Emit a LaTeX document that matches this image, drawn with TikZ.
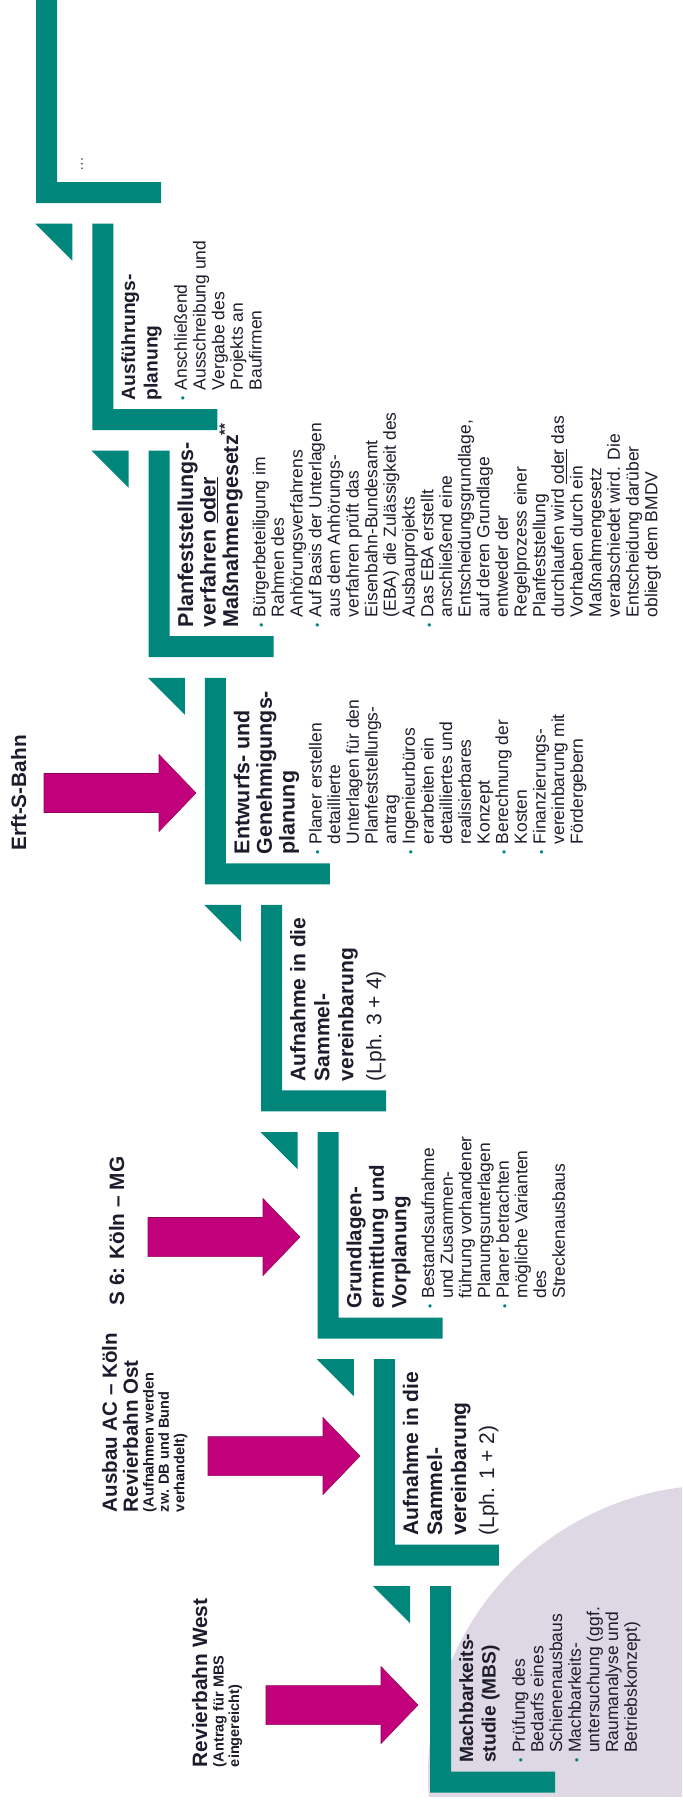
\documentclass[tikz,border=0pt]{standalone}
\usepackage{fontspec}
\setmainfont{Liberation Sans}
\definecolor{dbteal}{RGB}{0,134,122}
\definecolor{dbmag}{RGB}{195,0,123}
\definecolor{lav}{RGB}{222,215,228}
\definecolor{ink}{RGB}{28,28,44}
\newdimen\pxu \pxu=0.75pt
\newcommand{\bulit}{\makebox[10\pxu][l]{\textcolor{dbteal}{\fontsize{9}{9}\selectfont\textbullet}}}
\newcommand{\indt}{\makebox[10\pxu]{}}
\tikzset{
  stepL/.pic={\fill[dbteal] (0,0) -- (21,0) -- (21,185.5) -- (125,185.5) -- (125,206.5) -- (0,206.5) -- cycle;},
  stepT/.pic={\fill[dbteal] (-57,0) -- (-20,0) -- (-20,37) -- cycle;},
  magarrow/.pic={\fill[dbmag, draw=dbmag!75!black, line width=0.4pt] (-152,-19.5) -- (-37,-19.5) -- (-37,-38.5) -- (0,0) -- (-37,38.5) -- (-37,19.5) -- (-152,19.5) -- cycle;},
  txt/.style={rotate=90, anchor=north west, inner sep=0pt, outer sep=0pt, align=left, text=ink},
  ttl/.style={txt, font=\fontsize{15.4}{16.9}\selectfont\bfseries},
  ttlb/.style={txt, font=\fontsize{16.1}{16.9}\selectfont\bfseries},
  ttls/.style={txt, font=\fontsize{14.4}{16.9}\selectfont\bfseries},
  ttlw/.style={txt, font=\fontsize{15.8}{18}\selectfont\bfseries},
  bul/.style={txt, font=\fontsize{13.1}{14}\selectfont},
  lbl/.style={txt, font=\fontsize{15.6}{15.8}\selectfont\bfseries},
  sml/.style={txt, font=\fontsize{10.9}{11.6}\selectfont\bfseries},
}
\begin{document}
\begin{tikzpicture}[x=0.75pt, y=-0.75pt]
\useasboundingbox (0,0) rectangle (682,1803);
% lavender background circle
\begin{scope}
  \clip (0,0) rectangle (682,1796);
  \fill[lav] (718,1775) circle [radius=217.5pt];
\end{scope}
% step shapes
\pic at (36,-3.5) {stepL};
\pic at (92.3,223.6) {stepL}; \pic at (92.3,223.6) {stepT};
\pic at (148.6,450.7) {stepL}; \pic at (148.6,450.7) {stepT};
\pic at (204.9,677.8) {stepL}; \pic at (204.9,677.8) {stepT};
\pic at (261.2,904.9) {stepL}; \pic at (261.2,904.9) {stepT};
\pic at (317.5,1132.0) {stepL}; \pic at (317.5,1132.0) {stepT};
\pic at (373.8,1359.1) {stepL}; \pic at (373.8,1359.1) {stepT};
\pic at (430.1,1586.2) {stepL}; \pic at (430.1,1586.2) {stepT};
% arrows
\pic at (196,793) {magarrow};
\pic at (300,1237) {magarrow};
\pic at (360,1456) {magarrow};
\pic at (418,1705) {magarrow};
% ellipsis
\node[rotate=90, inner sep=0pt, text=black!70, font=\fontsize{11}{11}\selectfont] (dots) at (82,164) {…};
% labels
\node[lbl, anchor=north] (erft) at (11,793) {Erft-S-Bahn};
\node[lbl, anchor=north] (s6) at (109,1231) {S 6: Köln – MG};
\node[lbl, font=\fontsize{15.4}{15.8}\selectfont\bfseries] (ausbau) at (102,1512) {Ausbau AC – Köln\\Revierbahn Ost};
\node[sml] (ausbaus) at (143,1512) {(Aufnahmen werden\\zw. DB und Bund\\verhandelt)};
\node[lbl] (west) at (192,1767) {Revierbahn West};
\node[sml] (wests) at (213,1767) {(Antrag für MBS\\eingereicht)};
% step 1: Ausführungsplanung
\node[ttls] (t1) at (121.3,400.1) {Ausführungs-\\planung};
\node[bul] (b1) at (174.3,400.1) {\bulit Anschließend\\\indt Ausschreibung und\\\indt Vergabe des\\\indt Projekts an\\\indt Baufirmen};
% step 2: Planfeststellung
\node[ttlb] (t2) at (177.6,627.2) {Planfeststellungs-\\verfahren \underline{oder}\\Maßnahmengesetz\textsuperscript{**}};
\node[bul] (b2) at (252.6,627.2) {\bulit Bürgerbeteiligung im\\\indt Rahmen des\\\indt Anhörungsverfahrens\\
\bulit Auf Basis der Unterlagen\\\indt aus dem Anhörungs-\\\indt verfahren prüft das\\\indt Eisenbahn-Bundesamt\\\indt (EBA) die Zulässigkeit des\\\indt Ausbauprojekts\\
\bulit Das EBA erstellt\\\indt anschließend eine\\\indt Entscheidungsgrundlage,\\\indt auf deren Grundlage\\\indt entweder der\\\indt Regelprozess einer\\\indt Planfeststellung\\\indt durchlaufen wird \underline{oder} das\\\indt Vorhaben durch ein\\\indt Maßnahmengesetz\\\indt verabschiedet wird. Die\\\indt Entscheidung darüber\\\indt obliegt dem BMDV};
% step 3: Entwurfs- und Genehmigungsplanung
\node[ttlb] (t3) at (233.9,854.3) {Entwurfs- und\\Genehmigungs-\\planung};
\node[bul] (b3) at (308.9,854.3) {\bulit Planer erstellen\\\indt detaillierte\\\indt Unterlagen für den\\\indt Planfeststellungs-\\\indt antrag\\
\bulit Ingenieurbüros\\\indt erarbeiten ein\\\indt detailliertes und\\\indt realisierbares\\\indt Konzept\\
\bulit Berechnung der\\\indt Kosten\\
\bulit Finanzierungs-\\\indt vereinbarung mit\\\indt Fördergebern};
% step 4: Aufnahme (Lph. 3 + 4)
\node[ttlw] (t4) at (290.2,1081.4) {Aufnahme in die\\Sammel-\\vereinbarung\\[3pt]{\mdseries (Lph. 3 + 4)}};
% step 5: Grundlagenermittlung
\node[ttl] (t5) at (346.5,1308.5) {Grundlagen-\\ermittlung und\\Vorplanung};
\node[bul] (b5) at (421.5,1308.5) {\bulit Bestandsaufnahme\\\indt und Zusammen-\\\indt führung vorhandener\\\indt Planungsunterlagen\\
\bulit Planer betrachten\\\indt mögliche Varianten\\\indt des\\\indt Streckenausbaus};
% step 6: Aufnahme (Lph. 1 + 2)
\node[ttlw] (t6) at (402.8,1535.6) {Aufnahme in die\\Sammel-\\vereinbarung\\[3pt]{\mdseries (Lph. 1 + 2)}};
% step 7: Machbarkeitsstudie
\node[ttls] (t7) at (459.1,1762.7) {Machbarkeits-\\studie (MBS)};
\node[bul] (b7) at (512.1,1762.7) {\bulit Prüfung des\\\indt Bedarfs eines\\\indt Schienenausbaus\\
\bulit Machbarkeits-\\\indt untersuchung (ggf.\\\indt Raumanalyse und\\\indt Betriebskonzept)};
\end{tikzpicture}
\end{document}
